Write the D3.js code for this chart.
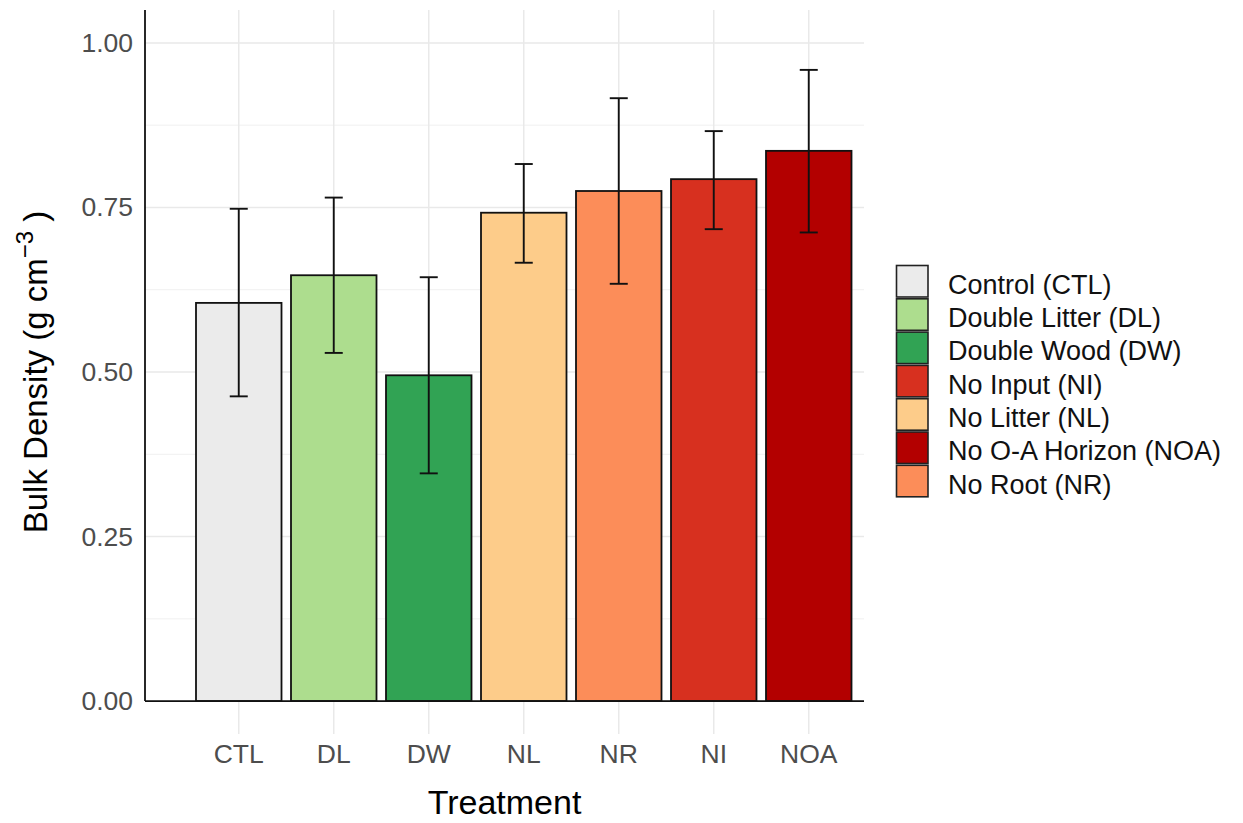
<!DOCTYPE html>
<html>
<head>
<meta charset="utf-8">
<script src="https://cdn.jsdelivr.net/npm/d3@7"></script>
<style>
  body { margin: 0; background: #fff; }
  text { font-family: "Liberation Sans", Arial, sans-serif; }
</style>
</head>
<body>
<div class="graph"></div>
<script>
const width = 1243;
const height = 823;
// panel box (ggplot-like, y expanded 5% each side)
const panel = {left: 145, right: 864, top: 10, bottom: 734};

// data
const treatments = ['CTL', 'DL', 'DW', 'NL', 'NR', 'NI', 'NOA'];
const bulkDensity = [0.605, 0.647, 0.495, 0.742, 0.775, 0.793, 0.836];
const errLow  = [0.463, 0.529, 0.346, 0.666, 0.634, 0.717, 0.712];
const errHigh = [0.748, 0.765, 0.644, 0.816, 0.916, 0.866, 0.959];
const yTicks = [0, 0.25, 0.5, 0.75, 1];
const yMinor = [0.125, 0.375, 0.625, 0.875];

// legend (alphabetical like ggplot)
const legendKeys = ['CTL', 'DL', 'DW', 'NI', 'NL', 'NOA', 'NR'];
const legendLabels = ['Control (CTL)', 'Double Litter (DL)', 'Double Wood (DW)', 'No Input (NI)',
                      'No Litter (NL)', 'No O-A Horizon (NOA)', 'No Root (NR)'];
const fillColors = {CTL: '#ebebeb', DL: '#addd8e', DW: '#31a354', NL: '#fdcc8a',
                    NR: '#fc8d59', NI: '#d7301f', NOA: '#b30000'};

const rows = treatments.map((t, i) => ({t, v: bulkDensity[i], lo: errLow[i], hi: errHigh[i]}));

const svg = d3.select('.graph').append('svg')
  .attr('width', width)
  .attr('height', height);

const x = d3.scaleBand()
  .domain(treatments)
  .range([196, 851.5])
  .paddingInner(0.1)
  .paddingOuter(0);

const y = d3.scaleLinear()
  .domain([-0.05, 1.05])
  .range([panel.bottom, panel.top]);

const cx = d => x(d) + x.bandwidth() / 2;

// grid
const grid = svg.append('g');
grid.selectAll('.minor').data(yMinor).join('line')
  .attr('x1', panel.left).attr('x2', panel.right)
  .attr('y1', d => y(d)).attr('y2', d => y(d))
  .attr('stroke', '#f0f0f0').attr('stroke-width', 1);
grid.selectAll('.major').data(yTicks).join('line')
  .attr('x1', panel.left).attr('x2', panel.right)
  .attr('y1', d => y(d)).attr('y2', d => y(d))
  .attr('stroke', '#e9e9e9').attr('stroke-width', 1.5);
grid.selectAll('.vert').data(treatments).join('line')
  .attr('x1', cx).attr('x2', cx)
  .attr('y1', panel.top).attr('y2', panel.bottom)
  .attr('stroke', '#e9e9e9').attr('stroke-width', 1.5);

// bars
svg.append('g').selectAll('rect').data(rows).join('rect')
  .attr('x', d => x(d.t))
  .attr('y', d => y(d.v))
  .attr('width', x.bandwidth())
  .attr('height', d => y(0) - y(d.v))
  .attr('fill', d => fillColors[d.t])
  .attr('stroke', '#111')
  .attr('stroke-width', 1.8);

// error bars
const capHalf = 9;
const eb = svg.append('g').attr('stroke', '#111').attr('stroke-width', 1.9);
eb.selectAll('.stem').data(rows).join('line')
  .attr('x1', d => cx(d.t)).attr('x2', d => cx(d.t))
  .attr('y1', d => y(d.lo)).attr('y2', d => y(d.hi));
eb.selectAll('.capHi').data(rows).join('line')
  .attr('x1', d => cx(d.t) - capHalf).attr('x2', d => cx(d.t) + capHalf)
  .attr('y1', d => y(d.hi)).attr('y2', d => y(d.hi));
eb.selectAll('.capLo').data(rows).join('line')
  .attr('x1', d => cx(d.t) - capHalf).attr('x2', d => cx(d.t) + capHalf)
  .attr('y1', d => y(d.lo)).attr('y2', d => y(d.lo));

// axis lines (hline at 0, vline on left)
svg.append('line')
  .attr('x1', panel.left).attr('x2', panel.right)
  .attr('y1', y(0)).attr('y2', y(0))
  .attr('stroke', '#111').attr('stroke-width', 1.8);
svg.append('line')
  .attr('x1', panel.left).attr('x2', panel.left)
  .attr('y1', panel.top).attr('y2', y(0))
  .attr('stroke', '#111').attr('stroke-width', 1.8);

// tick labels
const yAxis = d3.axisLeft(y).tickValues(yTicks).tickFormat(d3.format('.2f'))
  .tickSize(0).tickPadding(12);
const gy = svg.append('g').attr('transform', `translate(${panel.left},0)`).call(yAxis);
gy.select('.domain').remove();
gy.selectAll('text').attr('fill', '#4d4d4d').style('font-size', '26.5px')
  .style('font-family', '"Liberation Sans", Arial, sans-serif');

const xAxis = d3.axisBottom(x).tickSize(0).tickPadding(10);
const gx = svg.append('g').attr('transform', `translate(0,${panel.bottom})`).call(xAxis);
gx.select('.domain').remove();
gx.selectAll('text').attr('fill', '#4d4d4d').style('font-size', '26.5px')
  .style('font-family', '"Liberation Sans", Arial, sans-serif');

// axis titles
svg.append('text')
  .attr('x', (panel.left + panel.right) / 2)
  .attr('y', 814)
  .attr('text-anchor', 'middle')
  .style('font-size', '34px')
  .text('Treatment');

const yt = svg.append('text')
  .attr('transform', `translate(47,${(panel.top + panel.bottom) / 2}) rotate(-90)`)
  .attr('text-anchor', 'middle')
  .style('font-size', '33px');
yt.append('tspan').text('Bulk Density (g cm');
yt.append('tspan').attr('dy', -14).style('font-size', '24px').text('\u22123');
yt.append('tspan').attr('dy', 14).text(' )');

// legend
const leg = svg.append('g').attr('transform', 'translate(896.5,265.5)');
const step = 33.3;
leg.selectAll('rect').data(legendKeys).join('rect')
  .attr('x', 0)
  .attr('y', (d, i) => i * step)
  .attr('width', 31.5)
  .attr('height', 31.5)
  .attr('fill', d => fillColors[d])
  .attr('stroke', '#222')
  .attr('stroke-width', 1.6);
leg.selectAll('text').data(legendLabels).join('text')
  .attr('x', 51.5)
  .attr('y', (d, i) => i * step + 15.75 + 12.5)
  .style('font-size', '27px')
  .attr('fill', '#111')
  .text(d => d);
</script>
</body>
</html>
